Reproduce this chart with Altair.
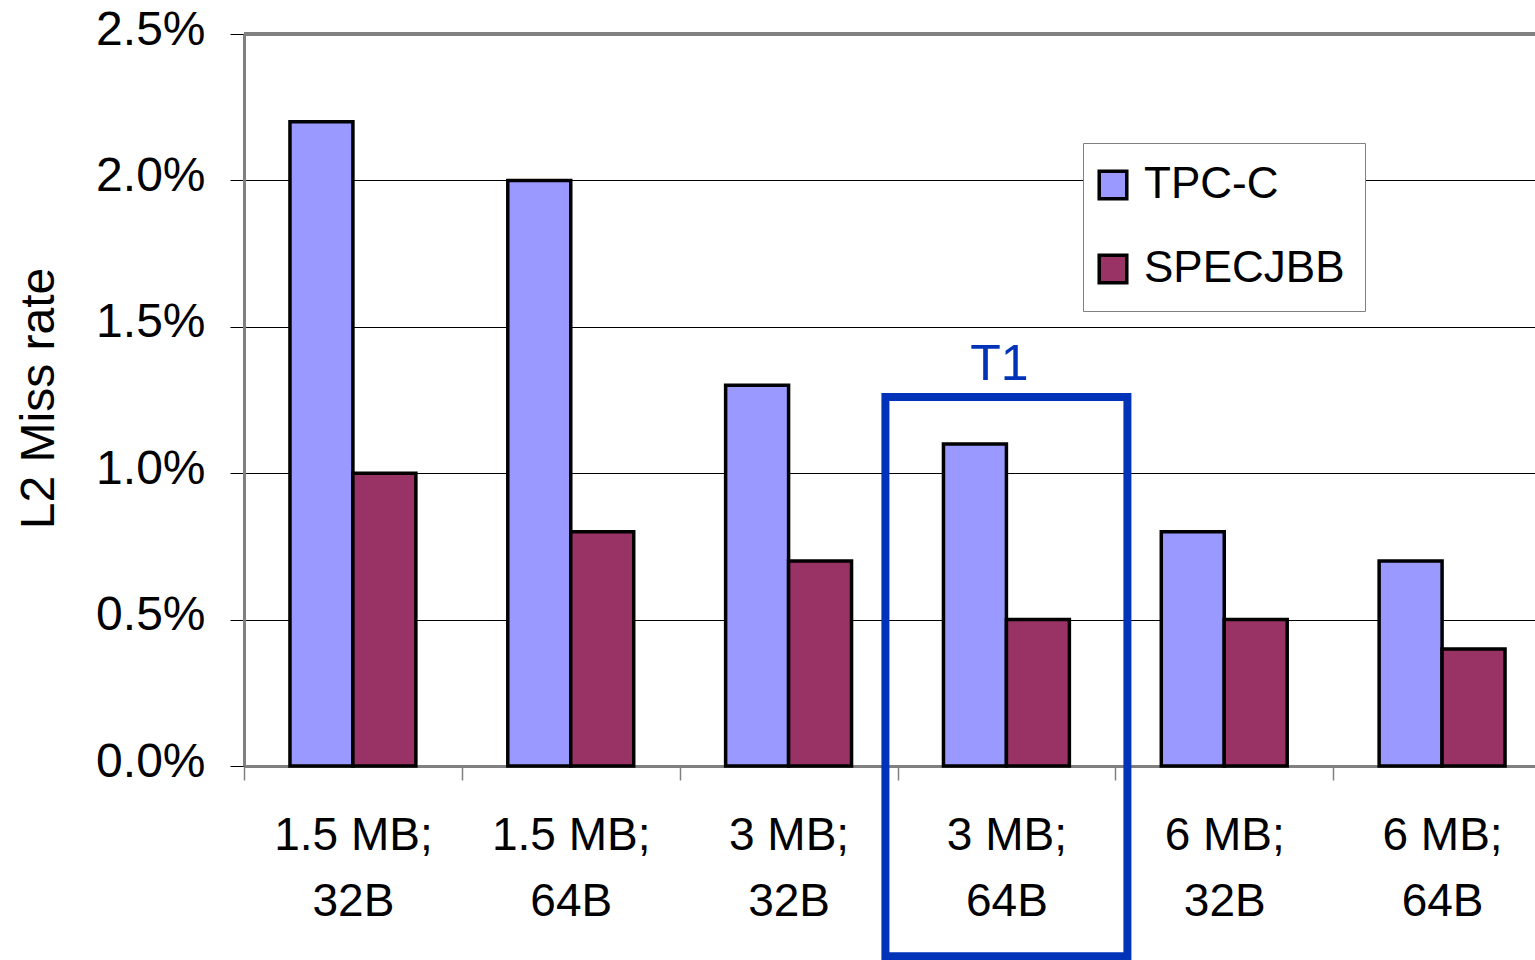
import altair as alt
import pandas as pd

# L2 cache configurations (size; block size)
configs = ["1.5 MB; 32B", "1.5 MB; 64B", "3 MB; 32B", "3 MB; 64B", "6 MB; 32B", "6 MB; 64B"]
series = ["TPC-C", "SPECJBB"]
tpcc = [2.2, 2.0, 1.3, 1.1, 0.8, 0.7]
specjbb = [1.0, 0.8, 0.7, 0.5, 0.5, 0.4]
colors = ["#9999FF", "#993366"]
y_ticks = [0.0, 0.5, 1.0, 1.5, 2.0, 2.5]

# highlighted configuration and its frame extent (in % units)
highlight = "3 MB; 64B"
highlight_label = "T1"
frame_top, frame_bottom = 1.26, -0.65
label_level = 1.32

FONT = "Liberation Sans"
BLUE = "#0033B8"
GRAY = "#808080"

rows = []
for c, a, b in zip(configs, tpcc, specjbb):
    rows.append({"config": c, "series": series[0], "rate": a})
    rows.append({"config": c, "series": series[1], "rate": b})
df = pd.DataFrame(rows)

W, H = 1291, 732
STEP_W = 1307  # six categories; the last one runs past the right edge

x_scale = alt.Scale(domain=configs, range=[0, STEP_W], paddingInner=0, paddingOuter=0)
y_scale = alt.Scale(domain=[0, 2.5], nice=False, zero=False)

label_expr = (
    "indexof(datum.label || '', ' ') >= 0 ? "
    "[split(datum.label, ' ')[0] + ' ' + split(datum.label, ' ')[1], split(datum.label, ' ')[2]] : ''"
)

bars = alt.Chart(df).mark_bar(stroke="black", strokeWidth=3.5, strokeJoin="miter").encode(
    x=alt.X("config:N", sort=configs, scale=x_scale, axis=alt.Axis(
        title=None,
        labelExpr=label_expr,
        labelFont=FONT, labelFontSize=46, labelColor="black", labelAngle=0,
        labelLineHeight=66, labelPadding=33, labelBaseline="top",
        tickBand="extent", tickSize=14, tickColor=GRAY, tickWidth=1.5,
        domainColor=GRAY, domainWidth=3, grid=False,
    )),
    xOffset=alt.XOffset("series:N", sort=series,
                        scale=alt.Scale(domain=series, paddingInner=0, paddingOuter=0.73)),
    y=alt.Y("rate:Q", scale=y_scale, axis=alt.Axis(
        title="L2 Miss rate", titleFont=FONT, titleFontSize=48, titleFontWeight="normal",
        titleColor="black", titleAngle=-90, titleX=-191, titleY=364, titleAlign="center",
        titleBaseline="alphabetic",
        values=y_ticks, labelExpr="format(datum.value, '.1f') + '%'",
        labelFont=FONT, labelFontSize=48, labelColor="black", labelPadding=25,
        labelBaseline="middle", labelOffset=-4,
        tickSize=14, tickColor="black", tickWidth=1,
        domainColor=GRAY, domainWidth=3,
        grid=True, gridColor="black", gridWidth=1,
    )),
    color=alt.Color("series:N", sort=series, scale=alt.Scale(domain=series, range=colors), legend=alt.Legend(
        title=None, orient="none", legendX=839, legendY=109,
        fillColor="white", strokeColor=GRAY, padding=20,
        symbolType="square", symbolSize=760, symbolStrokeColor="black", symbolStrokeWidth=3.5,
        symbolOpacity=1, symbolOffset=-12,
        labelFont=FONT, labelFontSize=44, labelColor="black", labelLimit=400,
        labelOffset=9, rowPadding=40,
    )),
)

# top frame line of the plot area
frame_line = alt.Chart(pd.DataFrame({"k": [0]})).mark_rule(color=GRAY, strokeWidth=4).encode(
    x=alt.value(0), x2=alt.value(W), y=alt.value(0)
)

hl = pd.DataFrame({"config": [highlight], "top": [frame_top], "bottom": [frame_bottom],
                   "level": [label_level], "text": [highlight_label]})

box = alt.Chart(hl).mark_bar(filled=False, stroke=BLUE, strokeWidth=8, size=242, clip=False).encode(
    x=alt.X("config:N", sort=configs, scale=x_scale),
    y=alt.Y("top:Q", scale=y_scale),
    y2="bottom:Q",
)

box_label = alt.Chart(hl).mark_text(font=FONT, fontSize=50, color=BLUE, baseline="alphabetic",
                                    align="center", dx=-7).encode(
    x=alt.X("config:N", sort=configs, scale=x_scale),
    y=alt.Y("level:Q", scale=y_scale),
    text="text:N",
)

chart = alt.layer(bars, frame_line, box, box_label).properties(
    width=W, height=H,
    autosize=alt.AutoSizeParams(type="none"),
    padding={"left": 244, "top": 34, "right": 0, "bottom": 194},
    background="white",
).configure_view(stroke="transparent")

chart.save("out.html", embed_options={"renderer": "svg", "actions": False})
